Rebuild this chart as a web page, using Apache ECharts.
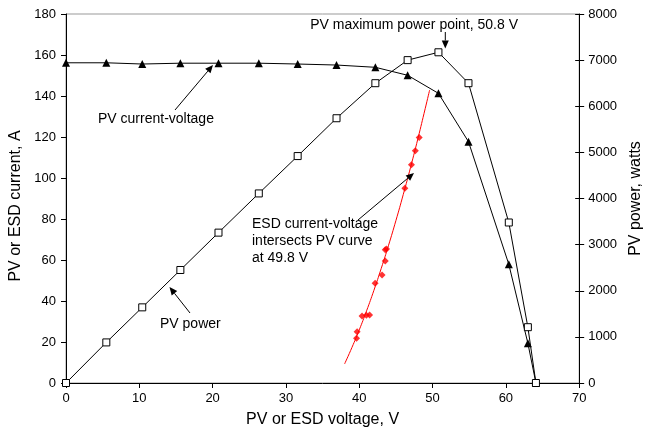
<!DOCTYPE html>
<html><head><meta charset="utf-8">
<script src="https://cdn.jsdelivr.net/npm/echarts@6/dist/echarts.min.js"></script>
<style>html,body{margin:0;padding:0;background:#fff}#c{width:652px;height:437px}</style>
</head><body><div id="c"></div>
<script>
// PV module curves
const pvVoltage = [0, 5.5, 10.4, 15.6, 20.8, 26.3, 31.6, 36.9, 42.2, 46.6, 50.8, 54.9, 60.4, 63.0, 64.1];
const pvCurrent = [156.2, 156.2, 155.6, 156.0, 156.0, 156.0, 155.6, 155.1, 154.0, 150.1, 141.3, 117.7, 57.9, 19.4, 0];
const pvPower = [0, 880, 1640, 2450, 3260, 4110, 4920, 5740, 6500, 7000, 7170, 6500, 3480, 1210, 0];
// ESD measured points
const esdVoltage = [39.63, 39.71, 40.38, 40.97, 41.41, 42.17, 43.11, 43.55, 43.55, 43.72, 46.22, 47.12, 47.65, 48.18];
const esdCurrent = [21.8, 25.0, 32.7, 33.0, 33.2, 48.6, 52.7, 59.5, 65.0, 65.4, 95.0, 106.5, 113.3, 119.7];
// ESD fitted curve
const esdFitVoltage = [38, 39, 40, 41, 42, 43, 44, 45, 46, 47, 48, 49, 49.6];
const esdFitCurrent = [9.3, 17.3, 25.9, 35.2, 45.2, 55.9, 67.2, 79.2, 91.9, 105.2, 119.2, 133.9, 142.9];
// axis ticks
const xTicks = {min: 0, max: 70, interval: 10};
const yLeftTicks = {min: 0, max: 180, interval: 20};
const yRightTicks = {min: 0, max: 8000, interval: 1000};

const zip = (a, b) => a.map((v, i) => [v, b[i]]);
const FONT = 'Liberation Sans, Arial, sans-serif';

function arrow(x1, y1, x2, y2) {
  const dx = x2 - x1, dy = y2 - y1, L = Math.hypot(dx, dy);
  const ux = dx / L, uy = dy / L, hl = 8, hw = 3.5;
  const bx = x2 - ux * hl, by = y2 - uy * hl;
  return [
    {type: 'line', shape: {x1, y1, x2: bx, y2: by}, style: {stroke: '#000', lineWidth: 1}, z: 50},
    {type: 'polygon', shape: {points: [[x2, y2], [bx - uy * hw, by + ux * hw], [bx + uy * hw, by - ux * hw]]}, style: {fill: '#000'}, z: 50}
  ];
}
function label(x, y, text, align) {
  return {type: 'text', x, y, z: 50, style: {text, font: '14px ' + FONT, fill: '#000', align: align || 'left', verticalAlign: 'middle', lineHeight: 17}};
}

const axisCommon = {
  axisLine: {show: true, lineStyle: {color: '#000', width: 1}},
  axisTick: {show: true, inside: false, length: 5, lineStyle: {color: '#000'}},
  splitLine: {show: false},
  axisLabel: {color: '#000', fontSize: 13, fontFamily: FONT, formatter: v => String(v)},
  nameLocation: 'middle',
  nameTextStyle: {color: '#000', fontSize: 16, fontFamily: FONT}
};

const chart = echarts.init(document.getElementById('c'), null, {renderer: 'canvas'});
chart.setOption({
  animation: false,
  backgroundColor: '#fff',
  grid: {left: 66, right: 62, top: 14, bottom: 54, show: true, borderColor: '#999', borderWidth: 1, backgroundColor: 'transparent'},
  xAxis: Object.assign({}, axisCommon, xTicks, {type: 'value', name: 'PV or ESD voltage, V', nameGap: 29,
    axisLabel: Object.assign({}, axisCommon.axisLabel, {margin: 9})}),
  yAxis: [
    Object.assign({}, axisCommon, yLeftTicks, {type: 'value', position: 'left',
      axisLabel: Object.assign({}, axisCommon.axisLabel, {margin: 10})}),
    Object.assign({}, axisCommon, yRightTicks, {type: 'value', position: 'right', name: 'PV power, watts', nameGap: 44,
      axisLabel: Object.assign({}, axisCommon.axisLabel, {margin: 9})}),
    // inner half of the crossing ticks on the right axis
    Object.assign({}, axisCommon, yRightTicks, {type: 'value', position: 'right', axisLine: {show: false},
      axisTick: {show: true, inside: true, length: 4, lineStyle: {color: '#000'}}, axisLabel: {show: false}})
  ],
  series: [
    {type: 'line', name: 'ESD fit', data: zip(esdFitVoltage, esdFitCurrent), smooth: true, showSymbol: false, symbol: 'none',
      lineStyle: {color: '#ff0000', width: 1}, yAxisIndex: 0, z: 3},
    {type: 'scatter', name: 'ESD', data: zip(esdVoltage, esdCurrent), symbol: 'diamond', symbolSize: 7,
      itemStyle: {color: '#ff0000'}, yAxisIndex: 0, z: 4},
    {type: 'line', name: 'PV current', data: zip(pvVoltage, pvCurrent), symbol: 'triangle', symbolSize: 8, showAllSymbol: true,
      lineStyle: {color: '#000', width: 1}, itemStyle: {color: '#000', borderWidth: 0}, yAxisIndex: 0, z: 5},
    {type: 'line', name: 'PV power', data: zip(pvVoltage, pvPower), symbol: 'rect', symbolSize: 7, showAllSymbol: true,
      lineStyle: {color: '#000', width: 1}, itemStyle: {color: '#fff', borderColor: '#000', borderWidth: 1}, yAxisIndex: 1, z: 6}
  ],
  graphic: [].concat(
    arrow(445.3, 32, 445.3, 48.5),
    arrow(175, 110, 213, 65),
    arrow(358, 220, 414, 173),
    arrow(190, 313, 169.5, 287),
    [
      {type: 'text', x: 16, y: 206, rotation: Math.PI / 2, z: 50,
        style: {text: 'PV or ESD current, A', font: '16px ' + FONT, fill: '#000', align: 'center', verticalAlign: 'middle'}},
      label(518, 25, 'PV maximum power point, 50.8 V', 'right'),
      label(98, 119, 'PV current-voltage'),
      {type: 'text', x: 252, y: 216, z: 50, style: {text: 'ESD current-voltage\nintersects PV curve\nat 49.8 V', font: '14px ' + FONT, fill: '#000', lineHeight: 17, verticalAlign: 'top'}},
      label(160, 324, 'PV power')
    ]
  )
});
</script></body></html>
